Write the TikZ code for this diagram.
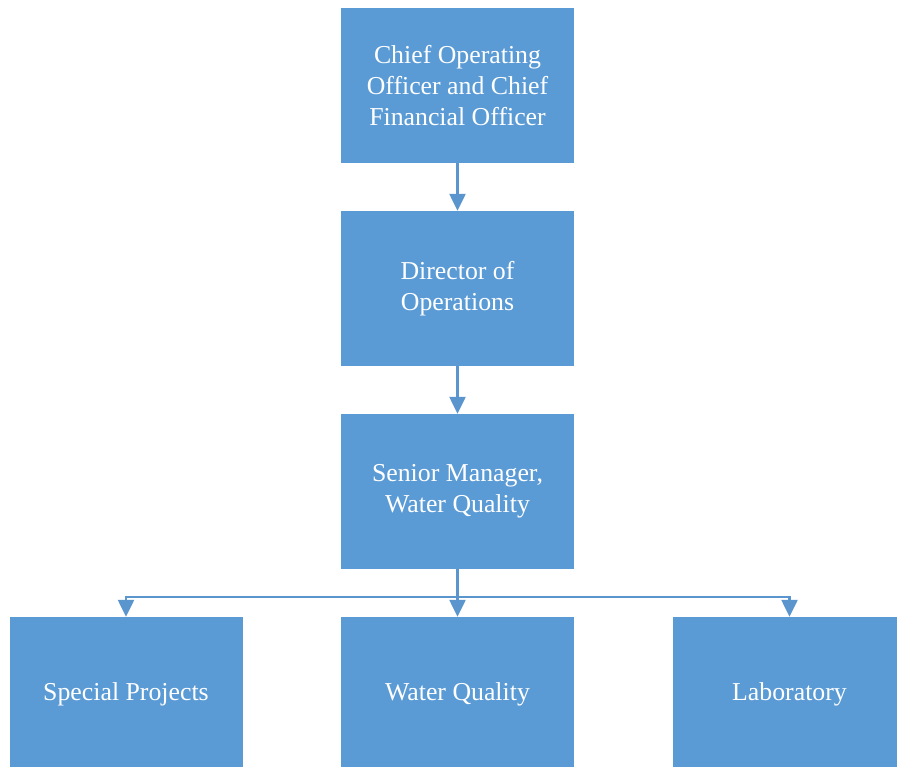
\documentclass[tikz,border=0pt]{standalone}
\usepackage{fontspec}
\setmainfont{Liberation Serif}
\usetikzlibrary{arrows.meta}
\definecolor{boxblue}{HTML}{5B9BD5}
\definecolor{linkblue}{HTML}{5A95CE}
\tikzset{
  orgbox/.style={fill=boxblue, draw=none, text=white, minimum width=233pt, minimum height=155pt,
    align=center, inner sep=0pt, font=\fontsize{25.8}{31}\selectfont},
  link/.style={draw=linkblue, line width=2.4pt, -{Triangle[width=16pt,length=17pt]}}
}
\begin{document}
\begin{tikzpicture}[x=1pt,y=-1pt]
        \clip (0,0) rectangle (897,767);
        \fill[white] (0,0) rectangle (897,767);

        \node[orgbox] (coo) at (457.5,85.5) {Chief Operating\\Officer and Chief\\Financial Officer};
        \node[orgbox] (dir) at (457.5,288.5) {Director of\\Operations};
        \node[orgbox] (senior) at (457.5,491.5) {Senior Manager,\\Water Quality};

        \node[orgbox] (special) at (126,694.5) {Special Projects};
        \node[orgbox] (water) at (457.5,694.5) {Water Quality};
        \node[orgbox] (lab) at (789.5,694.5) {Laboratory};

        \coordinate (split) at (457.5,597);

        \draw[link] (coo) -- (dir);
        \draw[link] (dir) -- (senior);
        \draw[link] (senior) -- (water);
        \draw[link] (split) -| (special.north);
        \draw[link] (split) -| (lab.north);
    \end{tikzpicture}
\end{document}
